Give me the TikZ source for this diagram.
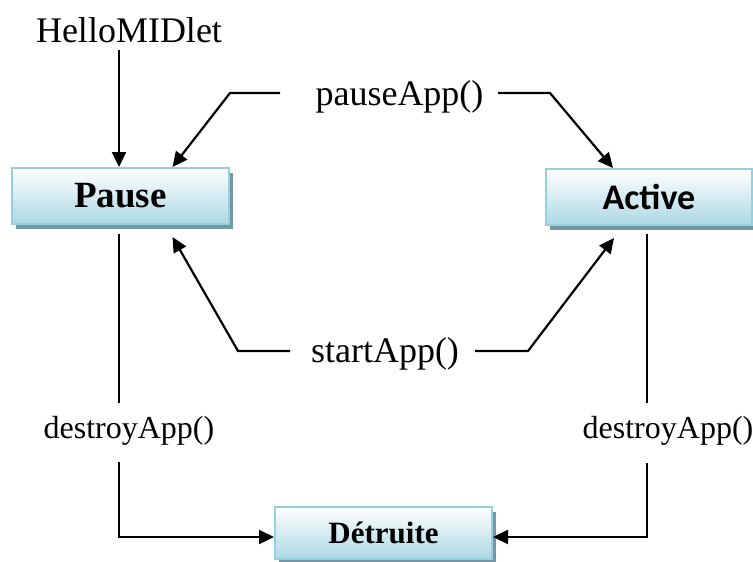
\documentclass[tikz,border=0pt]{standalone}
\usepackage{fontspec}
\setmainfont{Liberation Serif}
\newfontfamily\carlito{Carlito}
\usetikzlibrary{arrows.meta,shadows}
\definecolor{boxborder}{RGB}{148,208,222}
\definecolor{boxbottom}{RGB}{172,216,228}
\definecolor{shadowc}{RGB}{118,152,164}
\begin{document}
\begin{tikzpicture}[x=1pt,y=-1pt,
  statebox/.style={draw=boxborder, line width=2pt, top color=white, bottom color=boxbottom,
    minimum height=56pt, inner sep=0pt,
    drop shadow={shadow xshift=3.5pt, shadow yshift=-4.5pt, fill=shadowc, opacity=1}},
  lbl/.style={font=\fontsize{36}{40}\selectfont, inner sep=0pt, anchor=base},
  dlbl/.style={font=\fontsize{32}{36}\selectfont, inner sep=0pt, anchor=base},
  arr/.style={line width=2.2pt, -{Triangle[length=15pt,width=14pt]}},
  thinln/.style={line width=1.5pt}]
\useasboundingbox (0,0) rectangle (753,562);

% state boxes
\node[statebox, minimum width=217pt, font=\bfseries\fontsize{37}{40}\selectfont] (pause) at (120.5,196) {Pause};
\node[statebox, minimum width=206pt, font=\carlito\bfseries\fontsize{36}{40}\selectfont] (active) at (649,197) {Active};
\node[statebox, minimum width=217pt, minimum height=52pt, font=\bfseries\fontsize{31}{34}\selectfont] (det) at (383.5,533) {Détruite};

% labels
\node[lbl] (hm) at (129,42) {HelloMIDlet};
\node[lbl] (pa) at (399.5,105) {pauseApp()};
\node[lbl] (sa) at (385,362) {startApp()};
\node[dlbl] (d1) at (129,438) {destroyApp()};
\node[dlbl] (d2) at (668,438) {destroyApp()};

% bend points
\coordinate (hm0) at (119,50);
\coordinate (pal1) at (280,93);
\coordinate (pal2) at (230,93);
\coordinate (par1) at (498,93);
\coordinate (par2) at (550,93);
\coordinate (sal1) at (290,351);
\coordinate (sal2) at (238,351);
\coordinate (sar1) at (475,351);
\coordinate (sar2) at (528,351);
\coordinate (dl0) at (119,234);
\coordinate (dl1) at (119,403);
\coordinate (dl2) at (119,462);
\coordinate (dl3) at (119,537);
\coordinate (dr0) at (647,234);
\coordinate (dr1) at (647,403);
\coordinate (dr2) at (647,463);
\coordinate (dr3) at (647,537);

% connectors
\draw[arr] (hm0) -- (hm0 |- pause.north);
\draw[arr] (pal1) -- (pal2) -- ([xshift=52pt]pause.north);
\draw[arr] (par1) -- (par2) -- ([xshift=-36pt]active.north);
\draw[arr] (sal1) -- (sal2) -- ([xshift=52pt,yshift=-12pt]pause.south);
\draw[arr] (sar1) -- (sar2) -- ([xshift=-35pt,yshift=-12pt]active.south);
\draw[thinln] (dl0) -- (dl1);
\draw[arr] (dl2) -- (dl3) -- (det.west |- dl3);
\draw[thinln] (dr0) -- (dr1);
\draw[arr] (dr2) -- (dr3) -- (det.east |- dr3);
\end{tikzpicture}
\end{document}
